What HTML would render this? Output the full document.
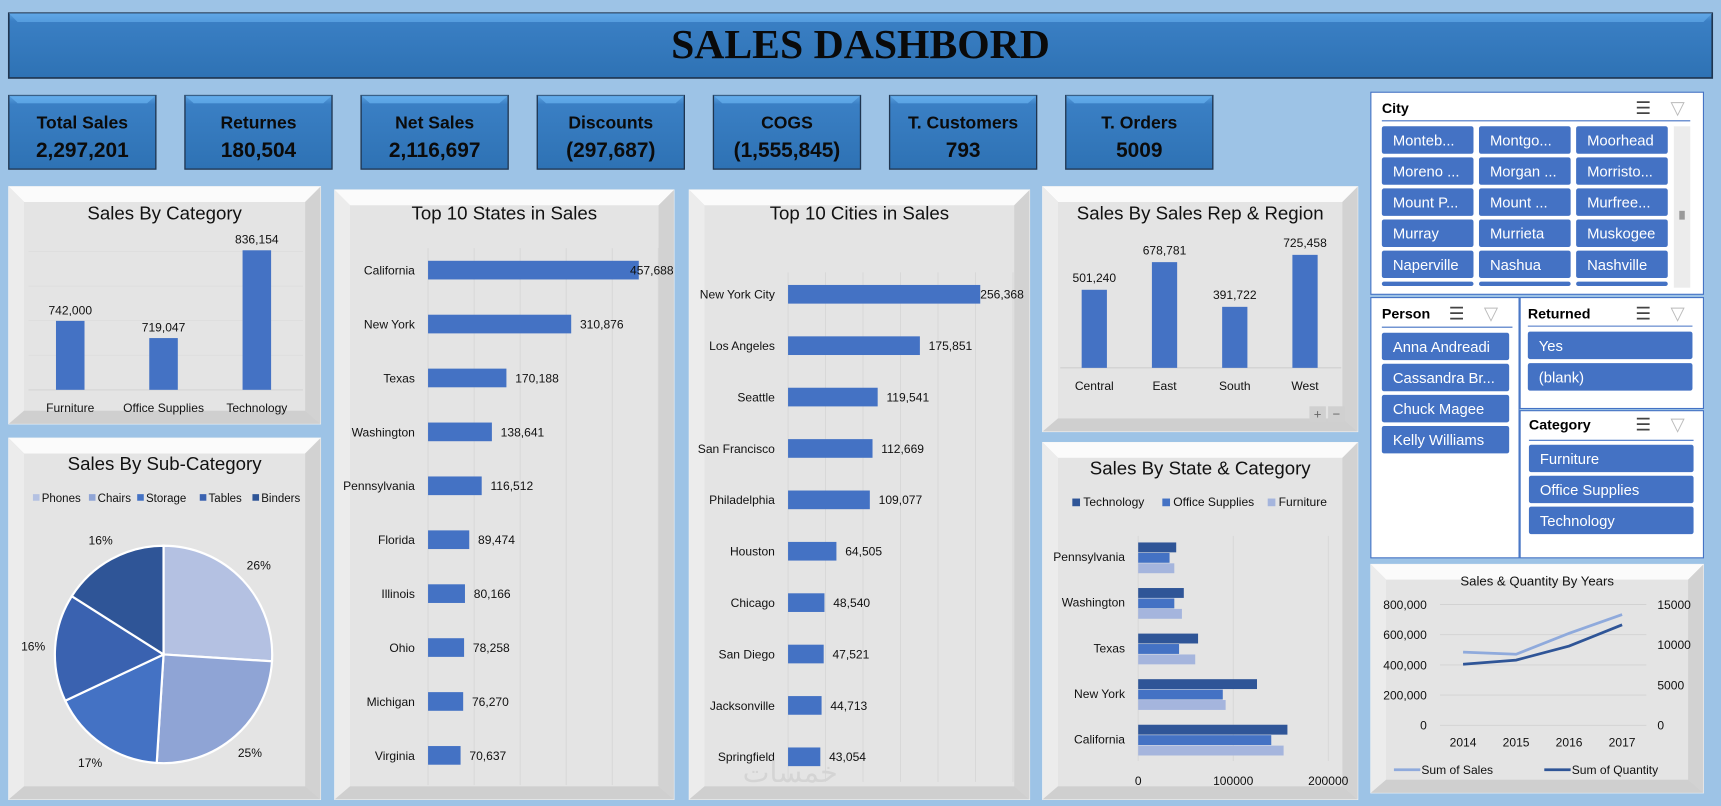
<!DOCTYPE html>
<html><head><meta charset="utf-8"><title>Sales Dashboard</title>
<style>
html,body{margin:0;padding:0;background:#9dc3e6;}
svg{display:block;font-family:"Liberation Sans",Arial,sans-serif;}
.ttl{fill:#111;text-anchor:middle;}
.lbl{font-size:11px;fill:#111;}
.kt{font-size:16px;font-weight:bold;fill:#0b0b0b;text-anchor:middle;}
.kv{font-size:19px;font-weight:bold;fill:#0b0b0b;text-anchor:middle;}
.sh{font-size:13px;font-weight:bold;fill:#000;}
.sb{font-size:13.5px;fill:#fff;}
</style></head>
<body>
<svg id="dash" width="1721" height="806" viewBox="0 0 1568 734" preserveAspectRatio="none" xmlns="http://www.w3.org/2000/svg">
<defs>
<linearGradient id="hdr" x1="0" y1="0" x2="0" y2="1"><stop offset="0" stop-color="#5aa0e0"/><stop offset="0.12" stop-color="#3a7fc4"/><stop offset="1" stop-color="#2e72b4"/></linearGradient>
</defs>
<rect x="0" y="0" width="1568" height="734" fill="#9dc3e6"/>

<g>
<rect x="8" y="12" width="1552" height="59" fill="url(#hdr)" stroke="#1f3550" stroke-width="1.5"/>
<polygon points="8,12 1560,12 1552,20 16,20" fill="#63aaea" opacity="0.7"/>
<text x="784" y="53" text-anchor="middle" font-family="'Liberation Serif',serif" font-weight="bold" font-size="38" fill="#0a0a0a">SALES DASHBORD</text>
</g>

<g id="kpis"></g>
<g id="panels"></g>
<g id="charts"></g>

<g>
<rect x="1249" y="84" width="303" height="184" fill="#fff" stroke="#4472c4" stroke-width="1"/>
<text x="1259" y="103" class="sh">City</text>
<text x="1490" y="104" font-size="16" fill="#444">☰</text>
<text x="1522" y="104" font-size="17" fill="#bbb">▽</text>
<line x1="1259" y1="110" x2="1540" y2="110" stroke="#4472c4"/>
<g id="cityBtns"></g>
<rect x="1525" y="115" width="15" height="147" fill="#ececec"/>
<rect x="1530" y="192" width="5" height="8" fill="#999"/>
</g>
<g>
<rect x="1249" y="271" width="135" height="237" fill="#fff" stroke="#4472c4"/>
<text x="1259" y="290" class="sh">Person</text>
<text x="1320" y="291" font-size="16" fill="#444">☰</text>
<text x="1352" y="291" font-size="17" fill="#bbb">▽</text>
<line x1="1259" y1="298" x2="1378" y2="298" stroke="#4472c4"/>
<g id="personBtns"></g>
</g>
<g>
<rect x="1385" y="271" width="167" height="101" fill="#fff" stroke="#4472c4"/>
<text x="1392" y="290" class="sh">Returned</text>
<text x="1490" y="291" font-size="16" fill="#444">☰</text>
<text x="1522" y="291" font-size="17" fill="#bbb">▽</text>
<line x1="1392" y1="297" x2="1542" y2="297" stroke="#4472c4"/>
<g id="retBtns"></g>
</g>
<g>
<rect x="1385" y="374" width="167" height="134" fill="#fff" stroke="#4472c4"/>
<text x="1393" y="391" class="sh">Category</text>
<text x="1490" y="392" font-size="16" fill="#444">☰</text>
<text x="1522" y="392" font-size="17" fill="#bbb">▽</text>
<line x1="1393" y1="401" x2="1543" y2="401" stroke="#4472c4"/>
<g id="catBtns"></g>
</g>
</svg>

<script>
// ---------- DATA ----------
const kpiTitles = ["Total Sales","Returnes","Net Sales","Discounts","COGS","T. Customers","T. Orders"];
const kpiValues = ["2,297,201","180,504","2,116,697","(297,687)","(1,555,845)","793","5009"];

const catNames = ["Furniture","Office Supplies","Technology"];
const catSales = [742000,719047,836154];

const stateNames = ["California","New York","Texas","Washington","Pennsylvania","Florida","Illinois","Ohio","Michigan","Virginia"];
const stateSales = [457688,310876,170188,138641,116512,89474,80166,78258,76270,70637];

const cityNames = ["New York City","Los Angeles","Seattle","San Francisco","Philadelphia","Houston","Chicago","San Diego","Jacksonville","Springfield"];
const citySales = [256368,175851,119541,112669,109077,64505,48540,47521,44713,43054];

const regionNames = ["Central","East","South","West"];
const regionSales = [501240,678781,391722,725458];

const subCatNames = ["Phones","Chairs","Storage","Tables","Binders"];
const subCatPct = [26,25,17,16,16];

const scStates = ["Pennsylvania","Washington","Texas","New York","California"];
const scTech = [40000,48000,63000,125000,157000];
const scOffice = [33000,38000,43000,89000,140000];
const scFurn = [38000,46000,60000,92000,153000];
const scTicks = [0,100000,200000];

const years = ["2014","2015","2016","2017"];
const yearSales = [484247,470533,609206,733215];
const yearQty = [7581,8094,9837,12476];
const leftTicks = [0,200000,400000,600000,800000];
const rightTicks = [0,5000,10000,15000];

const cityList = ["Monteb...","Montgo...","Moorhead","Moreno ...","Morgan ...","Morristo...","Mount P...","Mount ...","Murfree...","Murray","Murrieta","Muskogee","Naperville","Nashua","Nashville","","",""];
const personList = ["Anna Andreadi","Cassandra Br...","Chuck Magee","Kelly Williams"];
const returnedList = ["Yes","(blank)"];
const categoryList = ["Furniture","Office Supplies","Technology"];

// ---------- HELPERS ----------
const NS = "http://www.w3.org/2000/svg";
function mk(parent, tag, attrs, txt){
  const e = document.createElementNS(NS, tag);
  for (const k in attrs) e.setAttribute(k, attrs[k]);
  if (txt !== undefined) e.textContent = txt;
  parent.appendChild(e);
  return e;
}
const fmt = v => v.toLocaleString("en-US");
const C = document.getElementById("charts");

// ---------- KPIs ----------
const K = document.getElementById("kpis");
kpiTitles.forEach((t,i)=>{
  const x = 8 + i*160.5;
  const g = mk(K,"g",{});
  
  
  mk(g,"rect",{x:x,y:87,width:134,height:67,fill:"url(#hdr)",stroke:"#1f3550","stroke-width":1.2});
  mk(g,"polygon",{points:`${x},87 ${x+134},87 ${x+126},94 ${x+8},94`,fill:"#66b0f0",opacity:0.7});
  const tt = mk(g,"text",{x:x+67,y:117,class:"kt"},t);
  
  
  const tv = mk(g,"text",{x:x+67,y:143,class:"kv"},kpiValues[i]);
  
  
});

// ---------- PANELS ----------
const P = document.getElementById("panels");
function panel(x,y,w,h,title,ty,name,fs){
  const g = mk(P,"g",{});
  
  
  mk(g,"rect",{x:x,y:y,width:w,height:h,fill:"#dcdcdc",stroke:"#f4f4f4","stroke-width":1});
  mk(g,"polygon",{points:`${x},${y} ${x+w},${y} ${x+w-14},${y+14} ${x+14},${y+14}`,fill:"#fbfbfb"});
  mk(g,"polygon",{points:`${x},${y} ${x+14},${y+14} ${x+14},${y+h-12} ${x},${y+h}`,fill:"#ececec"});
  mk(g,"polygon",{points:`${x+w},${y} ${x+w-14},${y+14} ${x+w-14},${y+h-12} ${x+w},${y+h}`,fill:"#d2d2d2"});
  mk(g,"polygon",{points:`${x},${y+h} ${x+14},${y+h-12} ${x+w-14},${y+h-12} ${x+w},${y+h}`,fill:"#cfcfcf"});
  mk(g,"rect",{x:x+14,y:y+14,width:w-28,height:h-26,fill:"#e4e4e4"});
  if (title){
    const t = mk(g,"text",{x:x+w/2,y:ty,class:"ttl",style:`font-size:${fs||17}px`},title);
    
    
  }
}
panel(8,170,284,216,"Sales By Category",200,"sales-by-category-panel");
panel(8,399,284,329,"Sales By Sub-Category",428,"sales-by-subcategory-panel");
panel(305,173,309,555,"Top 10 States in Sales",200,"top-states-panel");
panel(628,173,310,555,"Top 10 Cities in Sales",200,"top-cities-panel");
panel(950,170,287,223,"Sales By Sales Rep & Region",200,"sales-by-rep-region-panel");
panel(950,403,287,325,"Sales By State & Category",432,"sales-by-state-category-panel");
panel(1249,514,303,208,"Sales & Quantity By Years",533,"sales-quantity-years-panel",12);

// ---------- Sales By Category (axis min 650000) ----------
{
  const base = 355, vmin = 650000, pxPer = 1/1465;
  const y = v => base - (v - vmin)*pxPer;
  const xc = i => 64 + i*85;
  mk(C,"line",{x1:26,y1:base,x2:276,y2:base,stroke:"#cfcfcf"});
  [0,1,2,3,4].forEach(k=>mk(C,"line",{x1:26,y1:base-k*31.5,x2:276,y2:base-k*31.5,stroke:"#dadada","stroke-width":0.6}));
  catSales.forEach((v,i)=>{
    const b = mk(C,"rect",{x:xc(i)-13,y:y(v),width:26,height:base-y(v),fill:"#4472c4"});
    
    
    const l = mk(C,"text",{x:xc(i),y:y(v)-6,class:"lbl","text-anchor":"middle"},fmt(v));
    
    
    const c = mk(C,"text",{x:xc(i),y:375,class:"lbl","text-anchor":"middle"},catNames[i]);
    
    
  });
}

// ---------- Top 10 States ----------
{
  const x0 = 390, k = 0.0004195;
  const yc = i => 246 + i*49.1;
  for (let t=0;t<=500000;t+=100000) mk(C,"line",{x1:x0+t*k,y1:226,x2:x0+t*k,y2:715,stroke:"#d6d6d6","stroke-width":0.8});
  stateSales.forEach((v,i)=>{
    const b = mk(C,"rect",{x:x0,y:yc(i)-8.5,width:v*k,height:17,fill:"#4472c4"});
    
    
    const l = mk(C,"text",{x:x0+v*k+(i==0?-8:8),y:yc(i)+4,class:"lbl"},fmt(v));
    
    
    const c = mk(C,"text",{x:378,y:yc(i)+4,class:"lbl","text-anchor":"end"},stateNames[i]);
    
    
  });
}

// ---------- Top 10 Cities ----------
{
  const x0 = 718, k = 0.000683;
  const yc = i => 268 + i*46.8;
  for (let t=0;t<=300000;t+=50000) mk(C,"line",{x1:x0+t*k,y1:248,x2:x0+t*k,y2:712,stroke:"#d6d6d6","stroke-width":0.8});
  citySales.forEach((v,i)=>{
    const b = mk(C,"rect",{x:x0,y:yc(i)-8.5,width:v*k,height:17,fill:"#4472c4"});
    
    
    const l = mk(C,"text",{x:x0+v*k+(i==0?0:8),y:yc(i)+4,class:"lbl"},fmt(v));
    
    
    const c = mk(C,"text",{x:706,y:yc(i)+4,class:"lbl","text-anchor":"end"},cityNames[i]);
    
    
  });
  const w = mk(C,"text",{x:720,y:712,"font-size":26,fill:"#d4d4d4","text-anchor":"middle"},"خمسات");
  
  
}

// ---------- Sales Rep & Region ----------
{
  const base = 335, k = 1/7050;
  const xc = i => 997 + i*64;
  mk(C,"line",{x1:966,y1:base,x2:1222,y2:base,stroke:"#cfcfcf"});
  regionSales.forEach((v,i)=>{
    const b = mk(C,"rect",{x:xc(i)-11.5,y:base-v*k,width:23,height:v*k,fill:"#4472c4"});
    
    
    const l = mk(C,"text",{x:xc(i),y:base-v*k-7,class:"lbl","text-anchor":"middle"},fmt(v));
    
    
    const c = mk(C,"text",{x:xc(i),y:355,class:"lbl","text-anchor":"middle"},regionNames[i]);
    
    
  });
  const pb = mk(C,"rect",{x:1193,y:370,width:15,height:14,fill:"#d0d0d0"});
  
  
  mk(C,"text",{x:1200.5,y:381,"font-size":12,fill:"#666","text-anchor":"middle"},"+");
  const mb = mk(C,"rect",{x:1210,y:370,width:15,height:14,fill:"#d0d0d0"});
  
  
  mk(C,"text",{x:1217.5,y:381,"font-size":12,fill:"#666","text-anchor":"middle"},"−");
}

// ---------- Sub-Category Pie ----------
{
  const cx = 149, cy = 596, r = 99;
  const cols = ["#b4c1e2","#8fa4d5","#4472c4","#3a62b0","#2f5597"];
  let a = -Math.PI/2;
  const tot = subCatPct.reduce((s,v)=>s+v,0);
  subCatPct.forEach((p,i)=>{
    const da = p/tot*2*Math.PI, a2 = a+da;
    const x1 = cx+r*Math.cos(a), y1 = cy+r*Math.sin(a), x2 = cx+r*Math.cos(a2), y2 = cy+r*Math.sin(a2);
    const s = mk(C,"path",{d:`M${cx},${cy} L${x1},${y1} A${r},${r} 0 ${da>Math.PI?1:0} 1 ${x2},${y2} Z`,fill:cols[i],stroke:"#fff","stroke-width":2});
    
    
    const am = a+da/2;
    const l = mk(C,"text",{x:cx+(r+20)*Math.cos(am),y:cy+(r+20)*Math.sin(am)+4,class:"lbl","text-anchor":"middle"},p+"%");
    
    
    a = a2;
  });
  const lx = [30,81,125,182,230];
  subCatNames.forEach((n,i)=>{
    const sq = mk(C,"rect",{x:lx[i],y:450,width:6,height:6,fill:cols[i]});
    
    
    const t = mk(C,"text",{x:lx[i]+8,y:457,"font-size":10.5,fill:"#111"},n);
    
    
  });
}

// ---------- Sales By State & Category ----------
{
  const x0 = 1037, k = 0.000866;
  const yc = i => 507 + i*41.5;
  scTicks.forEach(t=>{
    mk(C,"line",{x1:x0+t*k,y1:488,x2:x0+t*k,y2:693,stroke:"#d6d6d6","stroke-width":0.8});
    const tl = mk(C,"text",{x:x0+t*k,y:715,class:"lbl","text-anchor":"middle"},String(t));
    
    
  });
  const series = [[scTech,"#2f5597"],[scOffice,"#4472c4"],[scFurn,"#a5b5dd"]];
  scStates.forEach((s,i)=>{
    series.forEach(([arr,col],j)=>{
      const b = mk(C,"rect",{x:x0,y:yc(i)-13+j*9.5,width:arr[i]*k,height:9,fill:col});
      
      
    });
    const c = mk(C,"text",{x:1025,y:yc(i)+4,class:"lbl","text-anchor":"end"},s);
    
    
  });
  const leg = [["Technology","#2f5597",977],["Office Supplies","#4472c4",1059],["Furniture","#a5b5dd",1155]];
  leg.forEach(([n,col,x])=>{
    const sq = mk(C,"rect",{x:x,y:454,width:7,height:7,fill:col});
    
    
    const t = mk(C,"text",{x:x+10,y:461,"font-size":11,fill:"#111"},n);
    
    
  });
}

// ---------- Sales & Quantity By Years ----------
{
  const yb = 660.5, h = 110;
  const yl = v => yb - v/800000*h;
  const yr = v => yb - v/15000*h;
  const xc = i => 1333 + i*48.3;
  leftTicks.forEach(t=>{
    mk(C,"line",{x1:1312,y1:yl(t),x2:1500,y2:yl(t),stroke:"#d2d2d2","stroke-width":0.8});
    const tl = mk(C,"text",{x:1300,y:yl(t)+4,"font-size":11,fill:"#111","text-anchor":"end"},fmt(t));
    
    
  });
  rightTicks.forEach(t=>{
    const tl = mk(C,"text",{x:1510,y:yr(t)+4,"font-size":11,fill:"#111"},String(t));
    
    
  });
  years.forEach((y,i)=>{
    const tl = mk(C,"text",{x:xc(i),y:680,"font-size":11,fill:"#111","text-anchor":"middle"},y);
    
    
  });
  const ls = mk(C,"polyline",{points:yearSales.map((v,i)=>`${xc(i)},${yl(v)}`).join(" "),fill:"none",stroke:"#8faadc","stroke-width":2.5});
  
  
  const lq = mk(C,"polyline",{points:yearQty.map((v,i)=>`${xc(i)},${yr(v)}`).join(" "),fill:"none",stroke:"#2f5597","stroke-width":2.5});
  
  
  mk(C,"line",{x1:1270,y1:701,x2:1294,y2:701,stroke:"#8faadc","stroke-width":2.5});
  const l1 = mk(C,"text",{x:1295,y:705,"font-size":11,fill:"#111"},"Sum of Sales");
  
  
  mk(C,"line",{x1:1407,y1:701,x2:1431,y2:701,stroke:"#2f5597","stroke-width":2.5});
  const l2 = mk(C,"text",{x:1432,y:705,"font-size":11,fill:"#111"},"Sum of Quantity");
  
  
}

// ---------- Slicer buttons ----------
function btn(gid,x,y,w,h,label,name){
  const g = document.getElementById(gid);
  const r = mk(g,"rect",{x:x,y:y,width:w,height:h,rx:2,fill:"#4472c4"});
  
  
  if (label){
    const t = mk(g,"text",{x:x+10,y:y+h/2+5,class:"sb"},label);
    
    
  }
}
cityList.forEach((c,i)=>{
  const col = i%3, row = Math.floor(i/3);
  const y = 115 + row*28.3;
  const h = row==5 ? 4 : 25;
  btn("cityBtns",1259+col*88.5,y,83.5,h,c,"city-option");
});
personList.forEach((p,i)=>btn("personBtns",1259,303+i*28.3,116,25,p,"person-option"));
returnedList.forEach((p,i)=>btn("retBtns",1392,302+i*28.7,150,25,p,"returned-option"));
categoryList.forEach((p,i)=>btn("catBtns",1393,405+i*28.2,150,25,p,"category-option"));
</script>
</body></html>
